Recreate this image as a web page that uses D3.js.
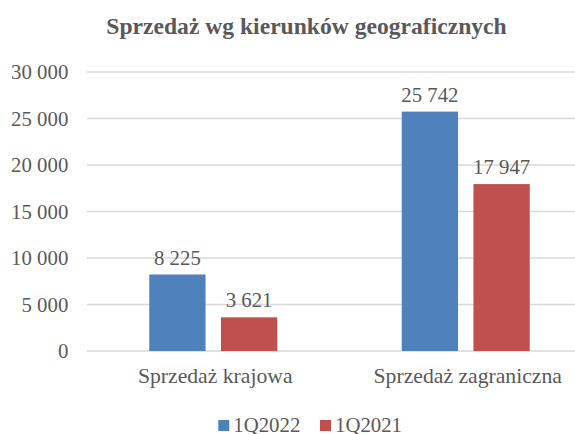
<!DOCTYPE html>
<html>
<head>
<meta charset="utf-8">
<script src="https://cdn.jsdelivr.net/npm/d3@7"></script>
<style>
  body { margin: 0; background: #fff; }
  svg { display: block; }
  svg text { font-family: "Liberation Serif", "DejaVu Serif", serif; }
</style>
</head>
<body>
<svg id="svg" width="575" height="434"></svg>
<script>
"use strict";

const categories = ["Sprzedaż krajowa", "Sprzedaż zagraniczna"];
const seriesNames = ["1Q2022", "1Q2021"];
const values2022 = [8225, 25742];
const values2021 = [3621, 17947];
const yTicks = [0, 5000, 10000, 15000, 20000, 25000, 30000];
const colors = ["#4F81BD", "#C0504D"];

const textColor = "#595959";
const numberSize = 20.8;
const labelSize = 21.7;

var svg = d3.select("svg");

var plotLeft = 87, plotRight = 592, plotTop = 72, plotBottom = 351;

var x = d3.scaleBand()
    .domain(categories)
    .range([plotLeft, plotRight])
    .paddingInner(0)
    .paddingOuter(0);

var inner = d3.scaleBand()
    .domain(seriesNames)
    .range([x.bandwidth() / 2 - 64, x.bandwidth() / 2 + 64])
    .paddingInner(0.215)
    .paddingOuter(0);

var y = d3.scaleLinear()
    .domain([0, 30000])
    .range([plotBottom, plotTop]);

var fmt = v => d3.format(",")(v).replace(/,/g, " ");

// title
svg.append("text")
    .attr("x", 306.5)
    .attr("y", 34)
    .attr("text-anchor", "middle")
    .attr("font-weight", "bold")
    .attr("font-size", 23.6)
    .attr("fill", textColor)
    .text("Sprzedaż wg kierunków geograficznych");

// gridlines
svg.append("g")
    .selectAll("line")
    .data(yTicks)
    .enter()
    .append("line")
        .attr("x1", plotLeft)
        .attr("x2", 575)
        .attr("y1", d => y(d))
        .attr("y2", d => y(d))
        .attr("stroke", "#d9d9d9")
        .attr("stroke-width", 1.3);

// y axis labels
var yAxis = svg.append("g")
    .attr("transform", "translate(" + plotLeft + ",0)")
    .call(d3.axisLeft(y).tickValues(yTicks).tickSize(0).tickPadding(18.7).tickFormat(fmt));
yAxis.select(".domain").remove();
yAxis.selectAll("text")
    .attr("font-size", numberSize)
    .attr("fill", textColor);

// bars
var rows = categories.map((c, i) => ({
    cat: c,
    vals: [values2022[i], values2021[i]]
}));

var group = svg.append("g")
    .selectAll("g")
    .data(rows)
    .enter()
    .append("g")
        .attr("transform", d => "translate(" + x(d.cat) + ",0)");

group.selectAll("rect")
    .data(d => d.vals.map((v, j) => ({ name: seriesNames[j], value: v, color: colors[j] })))
    .enter()
    .append("rect")
        .attr("x", d => inner(d.name))
        .attr("width", inner.bandwidth())
        .attr("y", d => y(d.value))
        .attr("height", d => y(0) - y(d.value))
        .attr("fill", d => d.color);

group.selectAll(".lbl")
    .data(d => d.vals.map((v, j) => ({ name: seriesNames[j], value: v })))
    .enter()
    .append("text")
        .attr("class", "lbl")
        .attr("x", d => inner(d.name) + inner.bandwidth() / 2)
        .attr("y", d => y(d.value) - 10)
        .attr("text-anchor", "middle")
        .attr("font-size", numberSize)
        .attr("fill", textColor)
        .text(d => fmt(d.value));

// x axis labels
svg.append("g")
    .selectAll("text")
    .data(categories)
    .enter()
    .append("text")
        .attr("x", d => x(d) + x.bandwidth() / 2 + 2)
        .attr("y", 382.5)
        .attr("text-anchor", "middle")
        .attr("font-size", labelSize)
        .attr("fill", textColor)
        .text(d => d);

// legend
var legendX = [218.3, 320];
var legend = svg.append("g")
    .selectAll("g")
    .data(seriesNames)
    .enter()
    .append("g")
        .attr("transform", (d, i) => "translate(" + legendX[i] + ",420)");

legend.append("rect")
    .attr("width", 11)
    .attr("height", 11)
    .attr("fill", (d, i) => colors[i]);

legend.append("text")
    .attr("x", 15)
    .attr("y", 12)
    .attr("font-size", numberSize)
    .attr("fill", textColor)
    .text(d => d);
</script>
</body>
</html>
